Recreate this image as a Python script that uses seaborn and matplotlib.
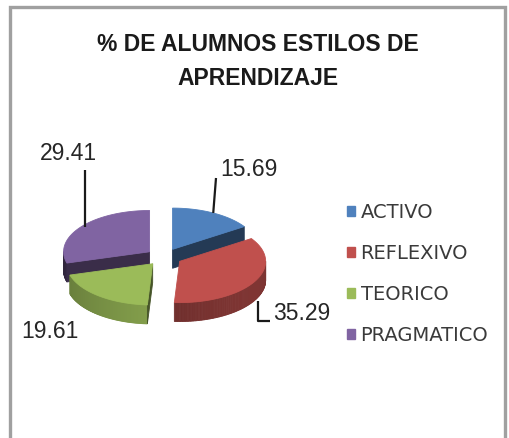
import numpy as np
import matplotlib
matplotlib.use("Agg")
import matplotlib.pyplot as plt
import seaborn as sns
from matplotlib.patches import Polygon, Rectangle, Patch
from matplotlib.colors import to_rgb

# ---- data ----
categories = ["ACTIVO", "REFLEXIVO", "TEORICO", "PRAGMATICO"]
values = [15.69, 35.29, 19.61, 29.41]
value_labels = ["15.69", "35.29", "19.61", "29.41"]
title_lines = ["% DE ALUMNOS ESTILOS DE", "APRENDIZAJE"]

sns.set_theme(style="white")
plt.rcParams['font.family'] = ['DejaVu Sans']
colors = ["#4F81BD", "#C0504D", "#9BBB59", "#8064A2"]

W, H = 510, 438
fig = plt.figure(figsize=(W / 100, H / 100), dpi=100)
fig.patch.set_facecolor("white")
ax = fig.add_axes([0, 0, 1, 1])
CX, CY, R = 164.0, 257.0, 86.0      # layout: pie centre & radius in pixels
K, EXPL, DEPTH = 0.48, 0.21, 0.22   # tilt, explode, thickness
ax.set_xlim(-CX / R, (W - CX) / R)
ax.set_ylim(-(H - CY) / R, CY / R)
ax.axis('off')


def px(x, y):
    return ((x - CX) / R, (CY - y) / R)


def shade(c, f):
    r, g, b = to_rgb(c)
    return (r * f, g * f, b * f)


fr = np.array(values) / np.sum(values)
bounds = 90 - 360 * np.concatenate([[0], np.cumsum(fr)])
mids = (bounds[:-1] + bounds[1:]) / 2
order = np.argsort(-np.sin(np.radians(mids)))
side_gain = {0: 0.55, 1: 0.52, 2: 0.78, 3: 0.5}

geo = {}
for i in order:
    a1, a2 = bounds[i], bounds[i + 1]
    m = np.radians(mids[i])
    ox, oy = EXPL * np.cos(m), EXPL * K * np.sin(m)

    def top(t, ox=ox, oy=oy):
        t = np.radians(t)
        return (ox + np.cos(t), oy + K * np.sin(t))

    def bot(t, ox=ox, oy=oy):
        x, y = top(t, ox, oy)
        return (x, y - DEPTH)

    geo[i] = (top, bot)
    c = colors[i]
    ts = np.linspace(a1, a2, 120)
    g = side_gain[i]
    # outer curved side
    for t0, t1 in zip(ts[:-1], ts[1:]):
        tm = (t0 + t1) / 2
        if np.sin(np.radians(tm)) < 0:
            f = g + 0.14 * np.cos(np.radians(tm + 30))
            col = shade(c, f)
            ax.add_patch(Polygon([top(t0), top(t1), bot(t1), bot(t0)],
                                 closed=True, facecolor=col, edgecolor=col, lw=0.6))
    # radial faces
    cen_t = (ox, oy)
    cen_b = (ox, oy - DEPTH)
    for a, vis in ((a2, np.cos(np.radians(a2)) > 0.01), (a1, np.cos(np.radians(a1)) < -0.01)):
        if vis:
            col = shade(c, 0.45)
            ax.add_patch(Polygon([cen_t, top(a), bot(a), cen_b], closed=True,
                                 facecolor=col, edgecolor=col, lw=0.6))
    # top face
    pts = [cen_t] + [top(t) for t in ts]
    ax.add_patch(Polygon(pts, closed=True, facecolor=c, edgecolor=c, lw=0.6))

# ---- data labels ----
lab_font = dict(family="Liberation Sans", fontsize=16.5, color="#262626",
                ha="center", va="center")
lab_pos = {0: (249, 170), 1: (302, 314), 2: (50, 332), 3: (68, 154)}
for i, (x, y) in lab_pos.items():
    ax.text(*px(x, y), value_labels[i], **lab_font)

lc = dict(color="#1a1a1a", lw=1.6, solid_capstyle="butt")
# ACTIVO leader
top0, bot0 = geo[0]
p = top0(mids[0])
q = px(216, 178)
ax.plot([p[0], q[0]], [p[1], q[1]], **lc)
# PRAGMATICO leader
top3, bot3 = geo[3]
p = top3(mids[3])
q = px(0, 170)
ax.plot([p[0] + 0.05, p[0] + 0.05], [p[1], q[1]], **lc)
# REFLEXIVO leader
top1, bot1 = geo[1]
p = bot1(mids[1])
q = px(270, 321)
ax.plot([p[0] + 0.05, p[0] + 0.05, q[0]], [p[1], q[1], q[1]], **lc)

# ---- legend ----
handles = [Patch(facecolor=c, edgecolor=c) for c in colors]
leg = ax.legend(handles, categories, loc="center left",
                bbox_to_anchor=(347 / W, 1 - 274 / H), bbox_transform=fig.transFigure,
                frameon=False, borderpad=0, borderaxespad=0,
                handlelength=0.42, handleheight=0.42, handletextpad=0.28,
                labelspacing=1.12, prop={"family": "DejaVu Sans", "size": 14})
for t in leg.get_texts():
    t.set_color("#3a3a3a")

# ---- title ----
fig.text(258 / W, 1 - 61.5 / H, "\n".join(title_lines), ha="center", va="center",
         family="Liberation Sans", fontweight="bold", fontsize=16.5, color="#1a1a1a",
         linespacing=1.6)

# ---- chart border ----
fig.patches.append(Rectangle((10 / W, -0.05), 495 / W, 1.05 - 6.5 / H,
                             transform=fig.transFigure, fill=False,
                             edgecolor="#a0a0a0", lw=2.4))

fig.savefig("out.png", dpi=100, facecolor="white")
